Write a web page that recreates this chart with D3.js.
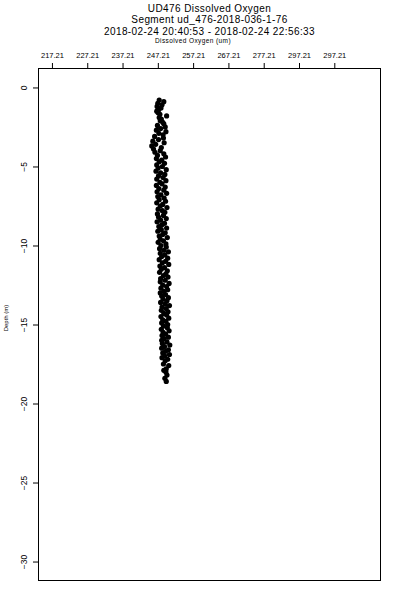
<!DOCTYPE html>
<html>
<head>
<meta charset="utf-8">
<script src="https://cdn.jsdelivr.net/npm/d3@7"></script>
<style>
  html, body { margin: 0; padding: 0; background: #fff; }
  svg { display: block; }
  text { font-family: "Liberation Sans", Arial, Helvetica, sans-serif; fill: #000; }
</style>
</head>
<body>
<svg id="chart" width="400" height="600"></svg>
<script>
// ---- data ----
const titleLines = ["UD476 Dissolved Oxygen", "Segment ud_476-2018-036-1-76", "2018-02-24 20:40:53 - 2018-02-24 22:56:33"];
const xLabel = "Dissolved Oxygen (um)";
const yLabel = "Depth (m)";
const xTickValues = [217.21, 227.21, 237.21, 247.21, 257.21, 267.21, 277.21, 287.21, 297.21];
const xTickLabels = ["217.21", "227.21", "237.21", "247.21", "257.21", "267.21", "277.21", "297.21", "297.21"];
const yTickValues = [0, -5, -10, -15, -20, -25, -30];
const xDomain = [213.4, 310.3];
const yDomain = [1.2, -31.2];

const depth = [
  -0.8, -0.9, -1.0, -1.1, -1.2, -1.3, -1.4, -1.5,
  -1.6, -1.7, -1.8, -1.9, -2.0, -2.1, -2.2,
  -2.3, -2.4, -2.5, -2.6, -2.7, -2.8, -2.9, -3.0,
  -3.1, -3.2, -3.3, -3.4, -3.5, -3.6, -3.7, -3.8, -3.9, -4.0,
  -4.1, -4.2, -4.3, -4.4, -4.5, -4.6, -4.7, -4.8, -4.9, -5.0,
  -5.1, -5.2, -5.3, -5.4, -5.5, -5.6, -5.7, -5.8, -5.9, -6.0,
  -6.1, -6.2, -6.3, -6.4, -6.5, -6.6, -6.7, -6.8, -6.9, -7.0,
  -7.1, -7.2, -7.3, -7.4, -7.5, -7.6, -7.7, -7.8, -7.9, -8.0,
  -8.1, -8.2, -8.3, -8.4, -8.5, -8.6, -8.7, -8.8, -8.9, -9.0,
  -9.1, -9.2, -9.3, -9.4, -9.5, -9.6, -9.7, -9.8, -9.9, -10.0,
  -10.1, -10.2, -10.3, -10.4, -10.5, -10.6, -10.7, -10.8, -10.9, -11.0,
  -11.1, -11.2, -11.3, -11.4, -11.5, -11.6, -11.7, -11.8, -11.9, -12.0,
  -12.1, -12.2, -12.3, -12.4, -12.5, -12.6, -12.7, -12.8, -12.9, -13.0,
  -13.1, -13.2, -13.3, -13.4, -13.5, -13.6, -13.7, -13.8, -13.9, -14.0,
  -14.1, -14.2, -14.3, -14.4, -14.5, -14.6, -14.7, -14.8, -14.9, -15.0,
  -15.1, -15.2, -15.3, -15.4, -15.5, -15.6, -15.7, -15.8, -15.9, -16.0,
  -16.1, -16.2, -16.3, -16.4, -16.5, -16.6, -16.7, -16.8, -16.9, -17.0,
  -17.1, -17.2, -17.3, -17.5, -17.6, -17.8, -17.9, -18.0,
  -18.2, -18.4, -18.6
];
const oxygen = [
  247.6, 248.9, 247.2, 248.4, 247.0, 248.1, 247.5, 246.9,
  247.3, 247.8, 249.7, 247.6, 248.2, 247.9, 248.6,
  248.9, 247.1, 249.3, 248.0, 246.8, 249.5, 247.5, 248.7,
  246.3, 248.8, 247.4, 245.8, 249.0, 246.6, 245.5, 248.2, 246.0, 247.9,
  246.4, 248.9, 247.1, 249.4, 246.8, 248.3, 247.6, 249.1, 246.9, 248.5,
  247.3, 249.6, 246.7, 248.0, 249.2, 247.4, 248.7, 246.9, 249.5, 247.8,
  248.4, 246.8, 249.3, 247.5, 248.9, 247.0, 249.7, 248.1, 247.2, 249.0,
  247.6, 249.4, 246.9, 248.6, 247.9, 249.8, 247.3, 248.5, 249.2, 247.1,
  248.8, 247.4, 249.6, 248.0, 247.0, 249.1, 248.3, 247.5, 249.7, 248.2,
  247.2, 249.3, 248.6, 247.6, 249.9, 247.9, 248.8, 247.3, 249.5, 248.1,
  249.6, 247.7, 248.9, 250.2, 247.9, 249.2, 248.3, 250.0, 247.6, 249.4,
  248.5, 250.3, 247.8, 249.1, 248.2, 249.9, 247.7, 249.5, 248.8, 250.1,
  248.0, 249.3, 247.9, 250.4, 248.6, 249.7, 248.1, 250.0, 248.9, 247.9,
  249.4, 248.3, 250.2, 248.7, 249.8, 248.0, 249.3, 250.5, 248.4, 249.6,
  248.2, 250.1, 248.9, 249.7, 248.1, 250.3, 248.6, 249.5, 248.3, 250.0,
  248.8, 249.9, 248.2, 250.4, 248.7, 249.4, 248.4, 250.2, 249.0, 248.3,
  249.8, 248.5, 250.6, 249.1, 248.3, 250.2, 249.4, 248.6, 250.5, 249.2,
  248.4, 250.0, 249.3, 248.8, 250.3, 249.6, 248.9, 249.5,
  249.8, 249.2, 249.6
];

// ---- layout ----
const svg = d3.select("#chart");
const plot = { left: 38.5, right: 380.5, top: 68.5, bottom: 580.5 };

const x = d3.scaleLinear().domain(xDomain).range([plot.left, plot.right]);
const y = d3.scaleLinear().domain(yDomain).range([plot.top, plot.bottom]);

// titles
const titleY = [12, 23.3, 34.5];
titleLines.forEach((t, i) => {
  svg.append("text")
    .attr("x", 209.5).attr("y", titleY[i])
    .attr("text-anchor", "middle")
    .attr("font-size", "10px")
    .attr("letter-spacing", "0.4px")
    .text(t);
});
svg.append("text")
  .attr("x", 193).attr("y", 42.8)
  .attr("text-anchor", "middle")
  .attr("font-size", "6.5px")
  .attr("letter-spacing", "0.4px")
  .text(xLabel);

// points
const pts = depth.map((d, i) => ({ d: d, o: oxygen[i] }));
svg.append("g").selectAll("circle")
  .data(pts).enter().append("circle")
  .attr("cx", p => x(p.o))
  .attr("cy", p => y(p.d))
  .attr("r", 2.6)
  .attr("fill", "#000");

// frame
svg.append("rect")
  .attr("x", plot.left).attr("y", plot.top)
  .attr("width", plot.right - plot.left)
  .attr("height", plot.bottom - plot.top)
  .attr("fill", "none").attr("stroke", "#000").attr("stroke-width", 1);

// top axis
const xAxis = d3.axisTop(x)
  .tickValues(xTickValues)
  .tickFormat((v, i) => xTickLabels[i])
  .tickSize(5.5).tickPadding(5.5);
const gx = svg.append("g").attr("transform", `translate(0,${plot.top})`).call(xAxis);
gx.select(".domain").remove();
gx.selectAll("line").attr("stroke", "#000");
gx.selectAll("text").attr("font-size", "7.5px").attr("font-family", "Liberation Sans, Arial, sans-serif");

// left axis
const yAxis = d3.axisLeft(y)
  .tickValues(yTickValues)
  .tickFormat(d3.format("d"))
  .tickSize(5.5).tickPadding(0);
const gy = svg.append("g").attr("transform", `translate(${plot.left},0)`).call(yAxis);
gy.select(".domain").remove();
gy.selectAll("line").attr("stroke", "#000");
gy.selectAll("text")
  .attr("font-size", "8.5px")
  .attr("font-family", "Liberation Sans, Arial, sans-serif")
  .attr("text-anchor", "middle")
  .attr("dy", null)
  .attr("x", null)
  .attr("transform", "translate(-11.5,0) rotate(-90)");

// y label
svg.append("text")
  .attr("transform", "translate(8,318) rotate(-90)")
  .attr("text-anchor", "middle")
  .attr("font-size", "6px")
  .text(yLabel);
</script>
</body>
</html>
